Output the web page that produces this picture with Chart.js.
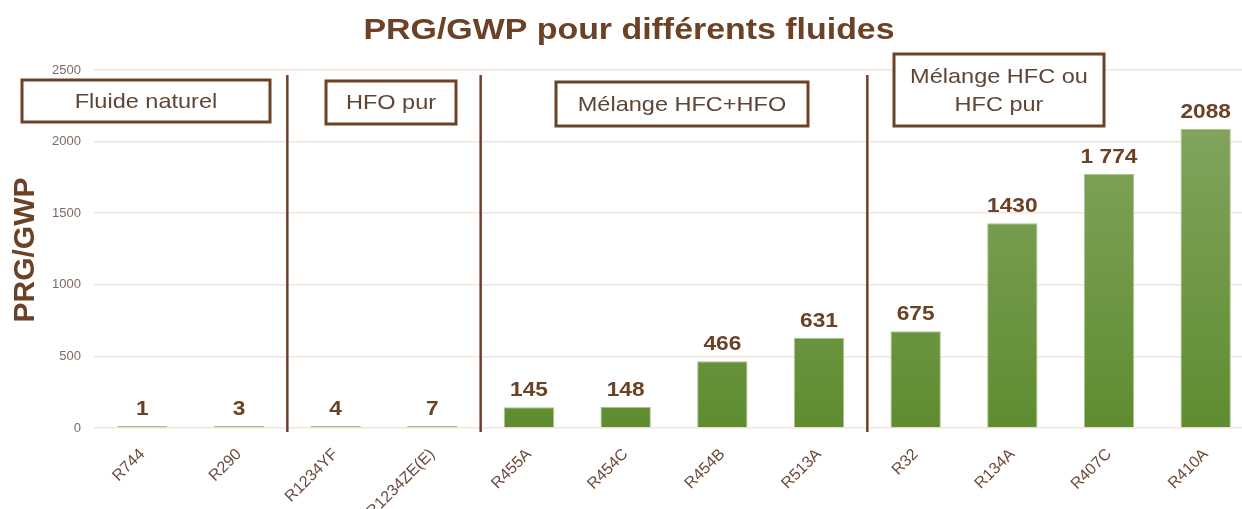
<!DOCTYPE html>
<html>
<head>
<meta charset="utf-8">
<script src="https://cdn.jsdelivr.net/npm/chart.js@4"></script>
<style>
    html, body { margin: 0; padding: 0; background: #fff; overflow: hidden; }
    #wrap { width: 1256px; height: 509px; position: relative; }
</style>
</head>
<body>
<div id="wrap"><canvas id="myChart"></canvas></div>
<script>
const fluides = ["R744", "R290", "R1234YF", "R1234ZE(E)", "R455A", "R454C", "R454B", "R513A", "R32", "R134A", "R407C", "R410A"];
const prgValues = [1, 3, 4, 7, 145, 148, 466, 631, 675, 1430, 1774, 2088];
const prgLabels = ["1", "3", "4", "7", "145", "148", "466", "631", "675", "1430", "1 774", "2088"];
const yTicks = [0, 500, 1000, 1500, 2000, 2500];

// groupes : index du premier fluide après chaque séparateur
const groupBreaks = [2, 4, 8];
const groupNames = [
    { lines: ["Fluide naturel"], x: 22, y: 80, w: 248, h: 42 },
    { lines: ["HFO pur"], x: 326, y: 81, w: 130, h: 43 },
    { lines: ["Mélange HFC+HFO"], x: 556, y: 82, w: 252, h: 44 },
    { lines: ["Mélange HFC ou", "HFC pur"], x: 894, y: 54, w: 210, h: 72 }
];

const BROWN = "#6B4226";
const FONT = "'Liberation Sans', Arial, sans-serif";

// texte légèrement élargi horizontalement
function wideText(ctx, txt, x, y, sx) {
    ctx.save();
    ctx.translate(x, y);
    ctx.scale(sx, 1);
    ctx.fillText(txt, 0, 0);
    ctx.restore();
}

// titre, titre d'axe, séparateurs, encadrés et valeurs au-dessus des barres
const decorPlugin = {
    id: "decor",
    afterDatasetsDraw(chart) {
        const ctx = chart.ctx;
        const x = chart.scales.x;
        ctx.save();

        ctx.fillStyle = BROWN;
        ctx.textAlign = "center";
        ctx.textBaseline = "middle";
        ctx.font = "bold 30px " + FONT;
        wideText(ctx, "PRG/GWP pour différents fluides", 629, 31, 1.13);

        ctx.save();
        ctx.translate(26, 250);
        ctx.rotate(-Math.PI / 2);
        ctx.font = "bold 30px " + FONT;
        ctx.fillText("PRG/GWP", 0, 0);
        ctx.restore();

        // traits verticaux entre groupes
        ctx.strokeStyle = BROWN;
        ctx.lineWidth = 2.5;
        groupBreaks.forEach(function (i) {
            let px = (x.getPixelForValue(i - 1) + x.getPixelForValue(i)) / 2;
            ctx.beginPath();
            ctx.moveTo(px, 75);
            ctx.lineTo(px, 432);
            ctx.stroke();
        });

        // encadrés des groupes
        ctx.lineWidth = 3;
        ctx.font = "21px " + FONT;
        groupNames.forEach(function (g) {
            ctx.fillStyle = "#fff";
            ctx.fillRect(g.x, g.y, g.w, g.h);
            ctx.strokeRect(g.x, g.y, g.w, g.h);
            ctx.fillStyle = "#5E4536";
            let lh = 28;
            let y0 = g.y + g.h / 2 - (g.lines.length - 1) * lh / 2;
            g.lines.forEach(function (t, k) {
                wideText(ctx, t, g.x + g.w / 2, y0 + k * lh + 1, 1.12);
            });
        });

        // valeurs
        ctx.fillStyle = BROWN;
        ctx.font = "bold 21px " + FONT;
        ctx.textBaseline = "alphabetic";
        chart.getDatasetMeta(0).data.forEach(function (bar, i) {
            wideText(ctx, prgLabels[i], bar.x, bar.y - 11, 1.08);
        });

        ctx.restore();
    }
};

let chartConfig = {
    type: "bar",
    data: {
        labels: fluides,
        datasets: [
            {
                label: "PRG/GWP",
                data: prgValues,
                backgroundColor: function (c) {
                    const area = c.chart.chartArea;
                    if (!area) return "#6E9A3E";
                    let g = c.chart.ctx.createLinearGradient(0, area.top, 0, area.bottom);
                    g.addColorStop(0, "#88A866");
                    g.addColorStop(1, "#5F8C30");
                    return g;
                },
                borderColor: "#A9C58A",
                borderWidth: 1,
                minBarLength: 2,
                barPercentage: 0.62,
                categoryPercentage: 0.84
            }
        ]
    },
    options: {
        responsive: true,
        maintainAspectRatio: false,
        animation: false,
        layout: { padding: { top: 70, right: 2, left: 0, bottom: 0 } },
        plugins: {
            legend: { display: false },
            tooltip: { enabled: false }
        },
        scales: {
            x: {
                grid: { display: false, drawTicks: false },
                border: { display: false },
                ticks: {
                    color: "#6B4A3A",
                    font: { family: FONT, size: 16 },
                    maxRotation: 45,
                    minRotation: 45,
                    padding: 17
                },
                afterFit: function (s) { s.height = 81; }
            },
            y: {
                min: 0,
                max: 2500,
                afterBuildTicks: function (s) {
                    s.ticks = yTicks.map(function (v) { return { value: v }; });
                },
                grid: { color: "#F5E4DA", lineWidth: 1.5, drawTicks: false },
                border: { display: false },
                ticks: {
                    color: "#7A6A62",
                    font: { family: FONT, size: 13 },
                    padding: 13,
                    callback: function (v) { return String(v); }
                },
                afterFit: function (s) { s.width = 94; }
            }
        }
    },
    plugins: [decorPlugin]
};

new Chart(document.getElementById("myChart"), chartConfig);
</script>
</body>
</html>
